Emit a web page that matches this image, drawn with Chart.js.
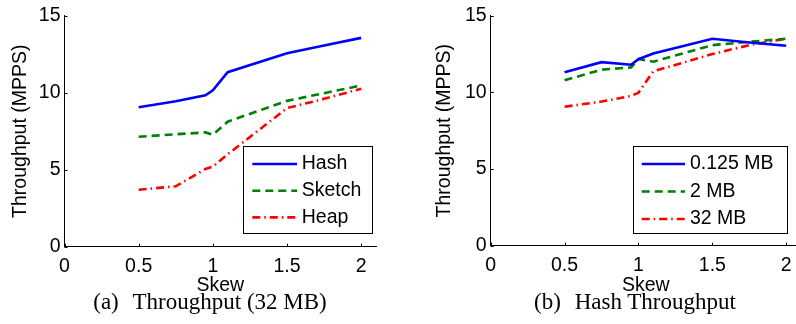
<!DOCTYPE html>
<html>
<head>
<meta charset="utf-8">
<script src="https://cdn.jsdelivr.net/npm/chart.js@4.4.1/dist/chart.umd.min.js"></script>
<style>
  html, body { margin: 0; padding: 0; background: #fff; }
  #wrap { position: relative; width: 796px; height: 324px; overflow: hidden; }
  .panel { position: absolute; top: 0; height: 324px; }
  .caption {
    position: absolute; top: 290px; transform: translateX(-50%);
    font-family: "Liberation Serif", "Times New Roman", serif;
    font-size: 23px; line-height: 23px; color: #000; white-space: nowrap;
  }
  .caption .gap { display: inline-block; width: 0.6em; }
</style>
</head>
<body>
<div id="wrap">
  <div class="panel" style="left:0;width:400px"><canvas id="left" width="400" height="324"></canvas></div>
  <div class="panel" style="left:400px;width:410px"><canvas id="right" width="410" height="324"></canvas></div>
  <div class="caption" style="left:210px">(a)<span class="gap"></span>Throughput (32 MB)</div>
  <div class="caption" style="left:635px">(b)<span class="gap"></span>Hash Throughput</div>
</div>
<script>
// skew values where measurements were taken
const skew = [0.5, 0.75, 0.95, 1, 1.1, 1.5, 1.75, 2];
const xTicks = [0, 0.5, 1, 1.5, 2];
const yTicks = [0, 5, 10, 15];

// (a) throughput at 32 MB
const hash32 = [9.06, 9.45, 9.83, 10.15, 11.33, 12.56, 13.06, 13.56];
const sketch32 = [7.14, 7.3, 7.42, 7.27, 8.12, 9.47, 9.97, 10.47];
const heap32 = [3.7, 3.92, 5.05, 5.2, 6.0, 9.0, 9.6, 10.26];

// (b) hash throughput by memory size
const hashSmall = [11.31, 11.97, 11.8, 12.16, 12.54, 13.5, 13.25, 13.04];
const hashMid = [10.79, 11.48, 11.63, 12.18, 12.0, 13.08, 13.3, 13.5];
const hashBig = [9.06, 9.4, 9.77, 9.98, 11.37, 12.5, 13.08, 13.5];

const labelsA = ['Hash', 'Sketch', 'Heap'];
const labelsB = ['0.125 MB', '2 MB', '32 MB'];

const FONT = '"Liberation Sans", Arial, Helvetica, sans-serif';
const FS = 19.5;

const styles = [
  { borderColor: '#0000ff', borderDash: [] },
  { borderColor: '#008000', borderDash: [8, 5] },
  { borderColor: '#ff0000', borderDash: [8, 4, 1.5, 4] }
];

const pts = vals => vals.map((v, i) => ({ x: skew[i], y: v }));

function makeDatasets(labels, series) {
  return series.map((s, i) => ({
    label: labels[i],
    data: pts(s),
    borderColor: styles[i].borderColor,
    borderDash: styles[i].borderDash,
    borderWidth: 2.6,
    borderCapStyle: 'butt',
    pointRadius: 0,
    tension: 0,
    fill: false
  }));
}

// MATLAB-like inward tick marks
const axisTicks = {
  id: 'axisTicks',
  afterDraw(chart) {
    const { ctx, chartArea: a, scales: { x, y } } = chart;
    ctx.save();
    ctx.strokeStyle = '#000';
    ctx.lineWidth = 1;
    ctx.beginPath();
    x.ticks.forEach(t => {
      const px = Math.round(x.getPixelForValue(t.value)) + 0.5;
      ctx.moveTo(px, a.bottom); ctx.lineTo(px, a.bottom - 3);
    });
    y.ticks.forEach(t => {
      const py = Math.round(y.getPixelForValue(t.value)) + 0.5;
      ctx.moveTo(a.left, py); ctx.lineTo(a.left + 3, py);
    });
    ctx.stroke();
    ctx.restore();
  }
};

// boxed legend inside the plot
const boxLegend = {
  id: 'boxLegend',
  afterDatasetsDraw(chart, args, o) {
    const { ctx } = chart;
    ctx.save();
    ctx.fillStyle = '#fff';
    ctx.fillRect(o.x, o.y, o.w, o.h);
    ctx.strokeStyle = '#000';
    ctx.lineWidth = 1;
    ctx.strokeRect(Math.round(o.x) + 0.5, Math.round(o.y) + 0.5, Math.round(o.w), Math.round(o.h));
    ctx.font = FS + 'px ' + FONT;
    ctx.textBaseline = 'middle';
    chart.data.datasets.forEach((ds, i) => {
      const cy = o.y + o.rowY + i * o.rowStep;
      ctx.save();
      ctx.strokeStyle = ds.borderColor;
      ctx.lineWidth = ds.borderWidth;
      ctx.setLineDash(ds.borderDash || []);
      ctx.beginPath();
      ctx.moveTo(o.x + o.lineX, cy);
      ctx.lineTo(o.x + o.lineX + o.lineLen, cy);
      ctx.stroke();
      ctx.restore();
      ctx.fillStyle = '#000';
      ctx.fillText(ds.label, o.x + o.textX, cy);
    });
    ctx.restore();
  }
};

function makeChart(id, labels, series, cfg) {
  return new Chart(document.getElementById(id), {
    type: 'line',
    data: { datasets: makeDatasets(labels, series) },
    options: {
      responsive: false,
      animation: false,
      layout: { padding: { top: cfg.top, right: cfg.right, left: 0, bottom: 0 } },
      plugins: {
        legend: { display: false },
        tooltip: { enabled: false },
        boxLegend: cfg.legend
      },
      scales: {
        x: {
          type: 'linear',
          min: 0, max: 2.1,
          afterBuildTicks: s => { s.ticks = xTicks.map(v => ({ value: v })); },
          afterFit: s => { s.height = cfg.xHeight; },
          grid: { display: false, drawTicks: false },
          border: { display: true, color: '#000', width: 1 },
          ticks: { color: '#000', font: { family: FONT, size: FS }, padding: 8, autoSkip: false, maxRotation: 0, callback: v => String(v) },
          title: { display: true, text: 'Skew', color: '#000', font: { family: FONT, size: FS }, padding: { top: 0, bottom: 27 } }
        },
        y: {
          min: 0, max: 15,
          afterBuildTicks: s => { s.ticks = yTicks.map(v => ({ value: v })); },
          afterFit: s => { s.width = cfg.yWidth; },
          grid: { display: false, drawTicks: false },
          border: { display: true, color: '#000', width: 1 },
          ticks: { color: '#000', font: { family: FONT, size: FS }, padding: 4, callback: v => String(v) },
          title: { display: true, text: 'Throughput (MPPS)', color: '#000', font: { family: FONT, size: FS }, padding: { top: cfg.yTitlePad, bottom: 0 } }
        }
      }
    },
    plugins: [axisTicks, boxLegend]
  });
}

makeChart('left', labelsA, [hash32, sketch32, heap32], {
  top: 12.7, right: 24, xHeight: 77.3, yWidth: 64.5, yTitlePad: 9,
  legend: { x: 243.3, y: 146, w: 128.7, h: 86.7, lineX: 9, lineLen: 44.7, textX: 58.4, rowY: 18, rowStep: 26.7 }
});

makeChart('right', labelsB, [hashSmall, hashMid, hashBig], {
  top: 11.7, right: 9, xHeight: 78.3, yWidth: 90.7, yTitlePad: 33,
  legend: { x: 232.7, y: 146, w: 154, h: 86.7, lineX: 9, lineLen: 43.3, textX: 57.3, rowY: 18, rowStep: 27.5 }
});
</script>
</body>
</html>
